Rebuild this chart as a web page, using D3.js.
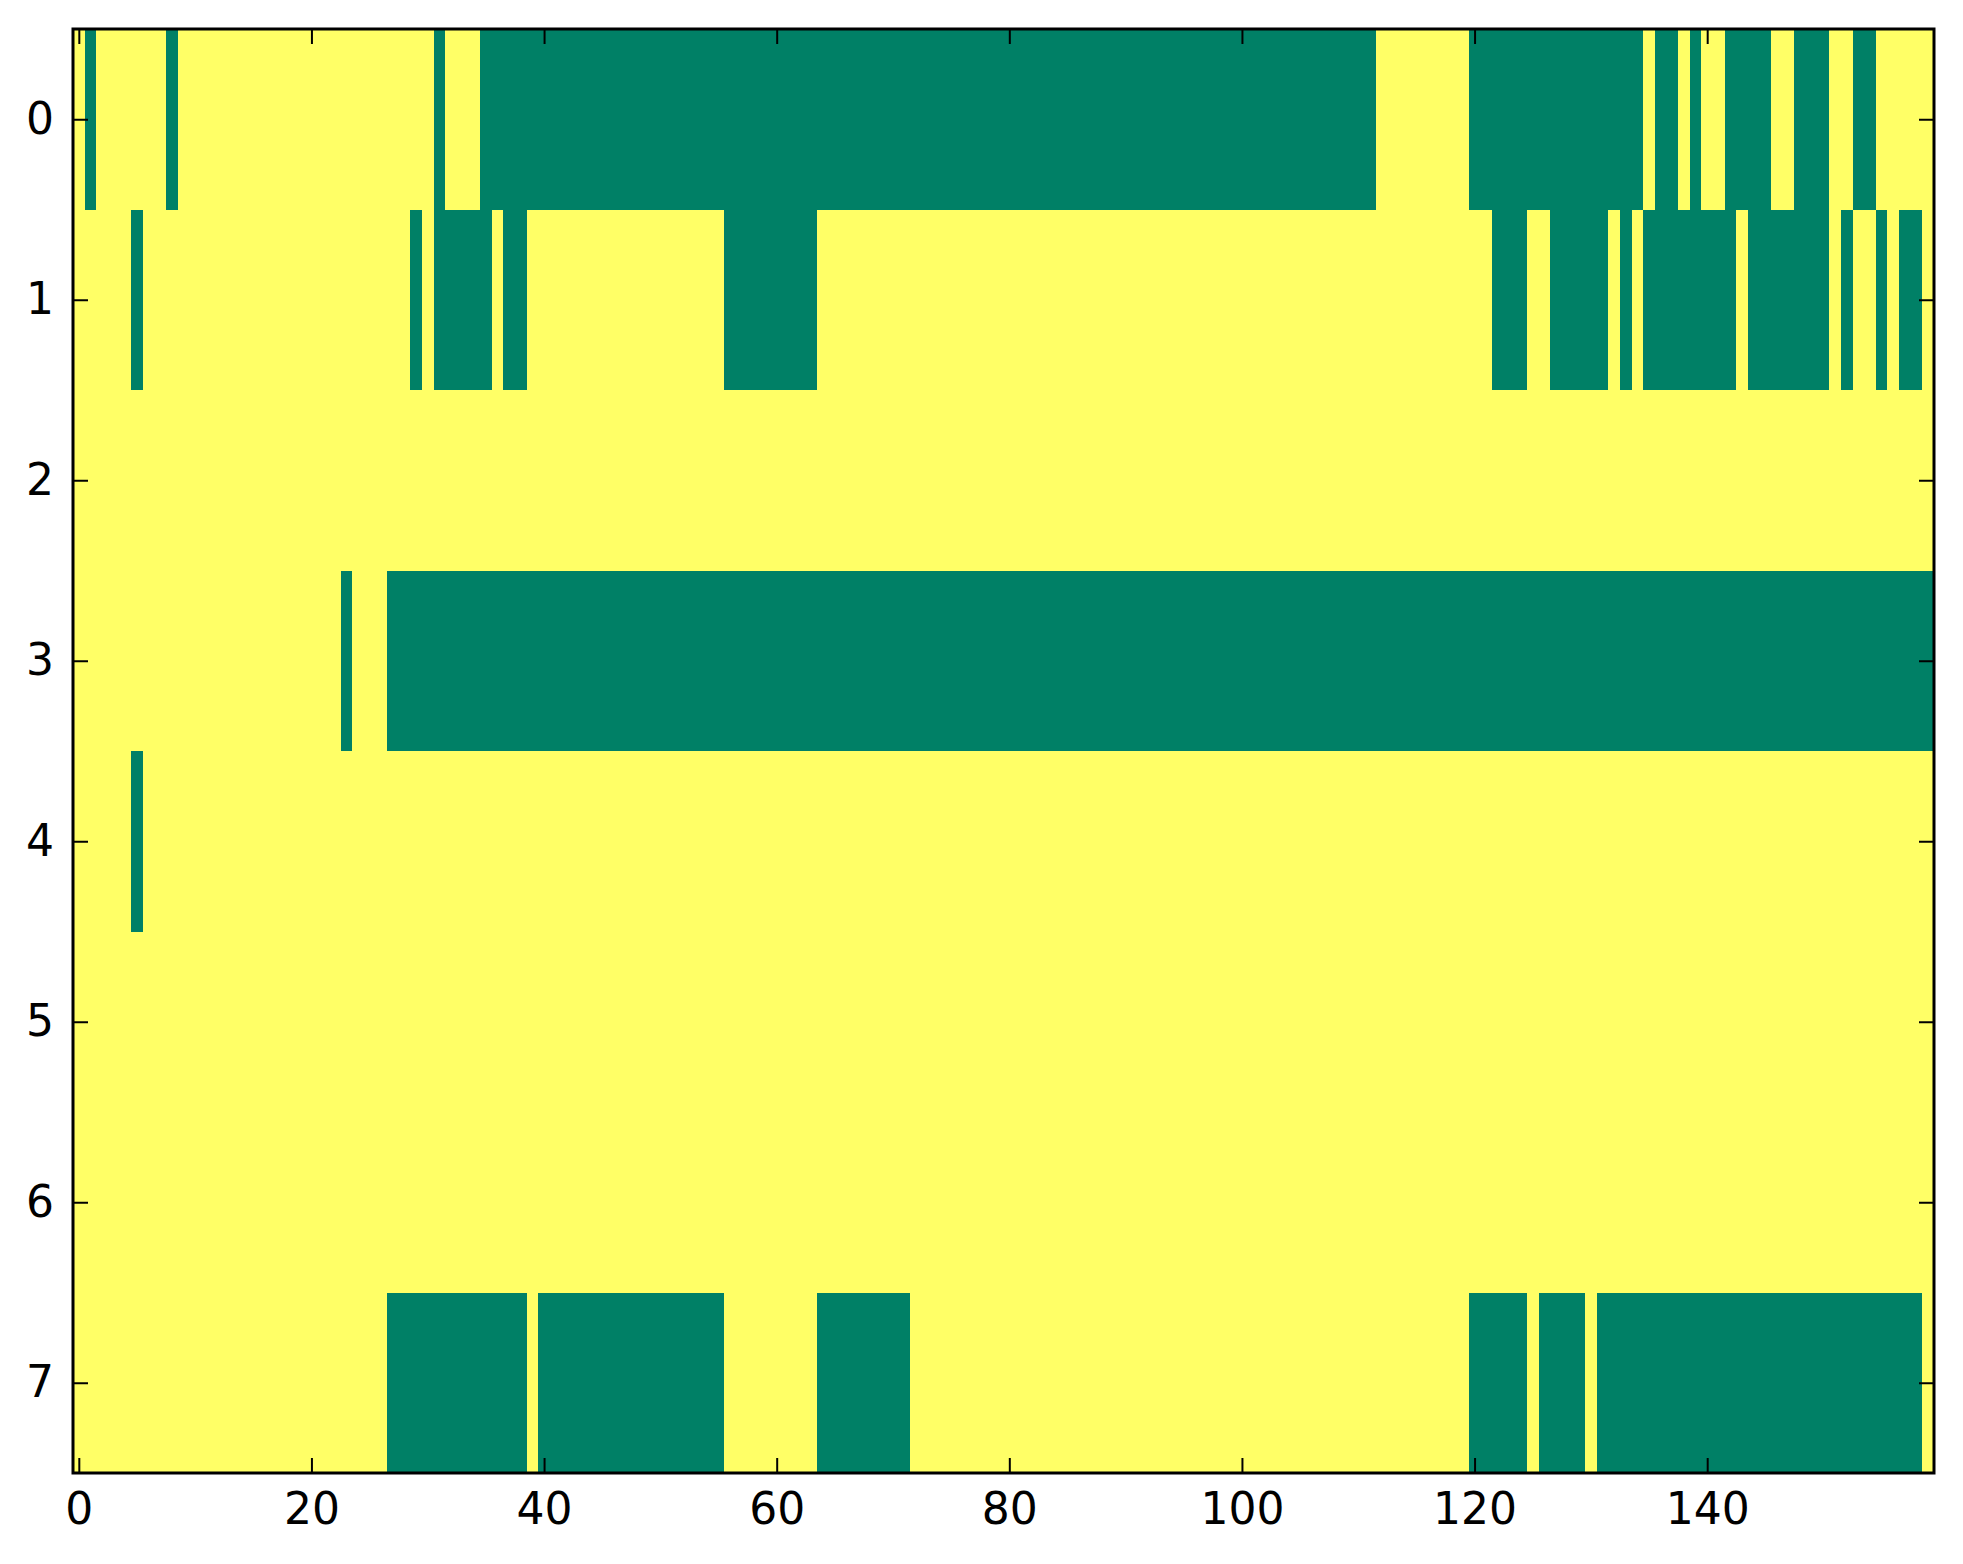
<!DOCTYPE html>
<html>
<head>
<meta charset="utf-8">
<script src="https://cdn.jsdelivr.net/npm/d3@7"></script>
<style>
	body { margin: 0; background: #fff; }
	svg { display: block; }
</style>
</head>
<body>
<div id="chart"></div>
<script>
// number of columns and rows in the image matrix
var nCols = 160;
var rowIndex = [0, 1, 2, 3, 4, 5, 6, 7];

// green (value 1) runs per row, [first column, last column]
var row0 = [[1, 1], [8, 8], [31, 31], [35, 111], [120, 134], [136, 137], [139, 139], [142, 145], [148, 150], [153, 154]];
var row1 = [[5, 5], [29, 29], [31, 35], [37, 38], [56, 63], [122, 124], [127, 131], [133, 133], [135, 142], [144, 150], [152, 152], [155, 155], [157, 158]];
var row2 = [];
var row3 = [[23, 23], [27, 159]];
var row4 = [[5, 5]];
var row5 = [];
var row6 = [];
var row7 = [[27, 38], [40, 55], [64, 71], [120, 124], [126, 129], [131, 158]];

var xTicks = [0, 20, 40, 60, 80, 100, 120, 140];
var yTicks = [0, 1, 2, 3, 4, 5, 6, 7];

var runs = [row0, row1, row2, row3, row4, row5, row6, row7];

// expand runs into cells
var cells = [];
rowIndex.forEach(function(r) {
	for (var c = 0; c < nCols; c++) {
		var v = 0;
		runs[r].forEach(function(run) {
			if (c >= run[0] && c <= run[1]) v = 1;
		});
		cells.push({ row: r, col: c, value: v });
	}
});

var margin = { top: 29, right: 29, bottom: 91, left: 73 },
	width = 1963 - margin.left - margin.right,
	height = 1564 - margin.top - margin.bottom;

var svg = d3
	.select('#chart')
	.append('svg')
	.attr('width', width + margin.left + margin.right)
	.attr('height', height + margin.top + margin.bottom)
	.append('g')
	.attr('transform', 'translate(' + margin.left + ',' + margin.top + ')');

var x = d3.scaleLinear().domain([-0.5, nCols - 0.5]).range([0, width]);
var y = d3.scaleLinear().domain([-0.5, rowIndex.length - 0.5]).range([0, height]);

// summer colormap ends
var color = d3.scaleOrdinal().domain([0, 1]).range(['#ffff66', '#008066']);

svg
	.append('g')
	.attr('shape-rendering', 'crispEdges')
	.selectAll('rect')
	.data(cells)
	.enter()
	.append('rect')
	.attr('x', function(d) { return x(d.col - 0.5); })
	.attr('y', function(d) { return y(d.row - 0.5); })
	.attr('width', function(d) { return x(d.col + 0.5) - x(d.col - 0.5) + 0.6; })
	.attr('height', function(d) { return y(d.row + 0.5) - y(d.row - 0.5) + 0.6; })
	.attr('fill', function(d) { return color(d.value); });

var tickLen = 15;

// axes, ticks pointing inward on all four sides
var xAxis = svg.append('g').attr('transform', 'translate(0,' + height + ')')
	.call(d3.axisBottom(x).tickValues(xTicks).tickSizeInner(-tickLen).tickSizeOuter(0).tickPadding(20));
var xTop = svg.append('g')
	.call(d3.axisTop(x).tickValues(xTicks).tickSizeInner(-tickLen).tickSizeOuter(0).tickFormat(''));
var yAxis = svg.append('g')
	.call(d3.axisLeft(y).tickValues(yTicks).tickSizeInner(-tickLen).tickSizeOuter(0).tickPadding(19));
var yRight = svg.append('g').attr('transform', 'translate(' + width + ',0)')
	.call(d3.axisRight(y).tickValues(yTicks).tickSizeInner(-tickLen).tickSizeOuter(0).tickFormat(''));

[xAxis, xTop, yAxis, yRight].forEach(function(a) {
	a.select('.domain').remove();
	a.selectAll('line').attr('stroke', '#000').attr('stroke-width', 2);
	a.selectAll('text').attr('fill', '#000').style('font-family', 'DejaVu Sans').style('font-size', '44px');
});

// frame
svg
	.append('rect')
	.attr('x', 0)
	.attr('y', 0)
	.attr('width', width)
	.attr('height', height)
	.attr('fill', 'none')
	.attr('stroke', '#000')
	.attr('stroke-width', 3);
</script>
</body>
</html>
